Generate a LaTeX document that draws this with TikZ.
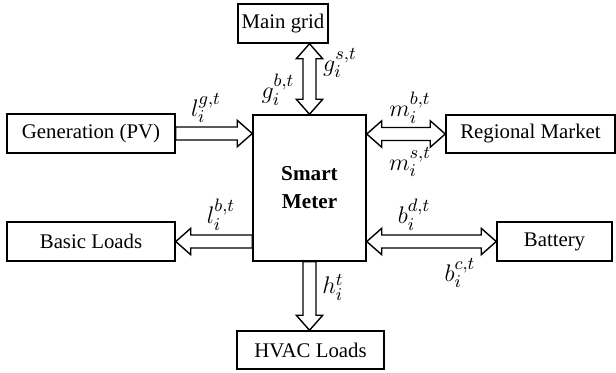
\documentclass[tikz,border=0pt]{standalone}
\usepackage{fontspec}
\setmainfont{Liberation Serif}
\usetikzlibrary{calc}
\newcommand\hollowsingle[2]{%
  \coordinate (hA) at (#1);
  \coordinate (hB) at (#2);
  \coordinate (hH) at ($(hB)!7.5pt!(hA)$);
  \draw[arrowline] (hA) -- ($(hA)!3.25pt!90:(hB)$) -- ($(hH)!3.25pt!90:(hB)$)
    -- ($(hH)!6.6pt!90:(hB)$) -- (hB) -- ($(hH)!6.6pt!-90:(hB)$)
    -- ($(hH)!3.25pt!-90:(hB)$) -- ($(hA)!3.25pt!-90:(hB)$) -- cycle;
}
\newcommand\hollowdouble[2]{%
  \coordinate (hA) at (#1);
  \coordinate (hB) at (#2);
  \coordinate (hH) at ($(hA)!7.5pt!(hB)$);
  \coordinate (hG) at ($(hB)!7.5pt!(hA)$);
  \draw[arrowline] (hA) -- ($(hH)!6.6pt!90:(hB)$) -- ($(hH)!3.25pt!90:(hB)$)
    -- ($(hG)!3.25pt!90:(hB)$) -- ($(hG)!6.6pt!90:(hB)$) -- (hB)
    -- ($(hG)!6.6pt!-90:(hB)$) -- ($(hG)!3.25pt!-90:(hB)$)
    -- ($(hH)!3.25pt!-90:(hB)$) -- ($(hH)!6.6pt!-90:(hB)$) -- cycle;
}
\begin{document}
\begin{tikzpicture}[x=0.5pt,y=-0.5pt,
  box/.style={draw, line width=0.75pt, fill=white, inner sep=0pt,
    font=\fontsize{10.4}{12.5}\selectfont, align=center},
  arrowline/.style={draw, line width=0.7pt, fill=white, line join=miter},
  lab/.style={font=\fontsize{12.5}{14}\selectfont, inner sep=0pt}]
\useasboundingbox (0,0) rectangle (616,372);
\node[box, minimum width=45pt, minimum height=19.5pt] (mg) at (283,23.5) {Main grid};
\node[box, minimum width=56.5pt, minimum height=73pt, font=\fontsize{10.6}{14}\selectfont\bfseries] (sm) at (309.5,188) {Smart\\Meter};
\node[box, minimum width=84pt, minimum height=19.5pt] (gen) at (91,133.5) {Generation (PV)};
\node[box, minimum width=84.5pt, minimum height=19pt] (rm) at (530.5,134) {Regional Market};
\node[box, minimum width=84pt, minimum height=19.5pt] (bl) at (91,241.5) {Basic Loads};
\node[box, minimum width=57.5pt, minimum height=19.5pt] (bat) at (554.5,241.5) {Battery};
\node[box, minimum width=73.5pt, minimum height=19pt] (hvac) at (310.5,350) {HVAC Loads};
\hollowdouble{sm.north |- mg.south}{sm.north}
\hollowsingle{gen.east}{sm.west |- gen.east}
\hollowdouble{sm.east |- rm.west}{rm.west}
\hollowsingle{sm.west |- bl.east}{bl.east}
\hollowdouble{sm.east |- bat.west}{bat.west}
\hollowsingle{sm.south}{sm.south |- hvac.north}
\node[lab] (lgs) at (340,63) {$g_i^{s,t}$};
\node[lab] (lgb) at (278,90) {$g_i^{b,t}$};
\node[lab] (llg) at (206,108) {$l_i^{g,t}$};
\node[lab] (lmb) at (410,108) {$m_i^{b,t}$};
\node[lab] (lms) at (410,162) {$m_i^{s,t}$};
\node[lab] (llb) at (221,215) {$l_i^{b,t}$};
\node[lab] (lbd) at (414,215) {$b_i^{d,t}$};
\node[lab] (lbc) at (460,273) {$b_i^{c,t}$};
\node[lab] (lh) at (333,287) {$h_i^{t}$};
\end{tikzpicture}
\end{document}
